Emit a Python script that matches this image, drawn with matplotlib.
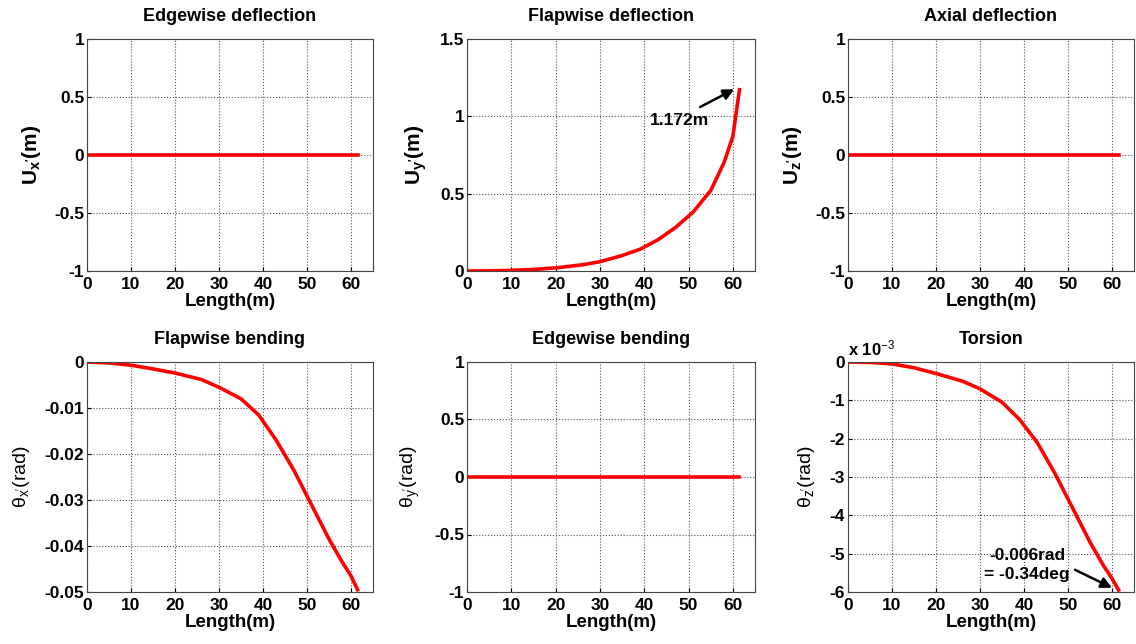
import matplotlib
matplotlib.use("Agg")
import matplotlib.pyplot as plt
import matplotlib.ticker as mticker

plt.rcParams["font.family"] = ["Liberation Sans", "DejaVu Sans"]
plt.rcParams["font.weight"] = "bold"
plt.rcParams["axes.unicode_minus"] = False
plt.rcParams["mathtext.fontset"] = "custom"
plt.rcParams["mathtext.rm"] = "Liberation Sans:weight=normal"
plt.rcParams["mathtext.bf"] = "Liberation Sans:bold"
plt.rcParams["mathtext.it"] = "Liberation Sans:italic"

# blade span positions (m)
length = [0, 5, 10, 15, 20, 26, 30, 35, 39, 43, 47, 51, 55, 58, 60, 61.5]
zeros = [0.0] * len(length)

# flapwise deflection Uy' (m)
flap_defl = [0, 0.001, 0.004, 0.01, 0.02, 0.04, 0.06, 0.1, 0.14, 0.2, 0.28,
             0.38, 0.52, 0.7, 0.87, 1.172]
# flapwise bending theta_x' (rad)
flap_bend = [0, -0.0002, -0.0007, -0.0015, -0.0024, -0.0038, -0.0055, -0.008,
             -0.0115, -0.017, -0.0235, -0.031, -0.0385, -0.0435, -0.0465, -0.0495]
# torsion theta_z' (x 1e-3 rad)
torsion = [0, -0.01, -0.05, -0.15, -0.3, -0.5, -0.7, -1.05, -1.5, -2.1, -2.9,
           -3.8, -4.7, -5.3, -5.65, -5.95]

fig = plt.figure(figsize=(11.36, 6.44), dpi=100)
W, H = 1136, 644
cols = [(87, 373), (467, 755), (848, 1134)]
rows = [(39, 271), (362, 592)]


def make_ax(r, c, title):
    x0, x1 = cols[c]
    y0, y1 = rows[r]
    ax = fig.add_axes([x0 / W, 1 - y1 / H, (x1 - x0) / W, (y1 - y0) / H])
    ax.set_xlim(0, 65)
    ax.set_xticks([0, 10, 20, 30, 40, 50, 60])
    ax.grid(True, linestyle=":", color="#555555", linewidth=0.8)
    ax.tick_params(direction="in", labelsize=12.5, length=3, pad=2)
    ax.tick_params(axis="x", pad=4)
    ax.yaxis.set_major_formatter(mticker.FormatStrFormatter("%g"))
    for s in ax.spines.values():
        s.set_color("#444444")
    ax.set_xlabel("Length(m)", fontsize=13.5, fontweight="bold", labelpad=1)
    ax.set_title(title, fontsize=13, fontweight="bold", pad=13)
    return ax


red = dict(color="red", linewidth=2.6)

ax = make_ax(0, 0, "Edgewise deflection")
ax.plot(length, zeros, **red)
ax.set_ylim(-1, 1)
ax.set_yticks([-1, -0.5, 0, 0.5, 1])
ax.set_ylabel(r"$\mathbf{U_{x'}(m)}$", fontsize=15, labelpad=8)

ax = make_ax(0, 1, "Flapwise deflection")
ax.plot(length, flap_defl, **red)
ax.set_ylim(0, 1.5)
ax.set_yticks([0, 0.5, 1, 1.5])
ax.set_ylabel(r"$\mathbf{U_{y'}(m)}$", fontsize=15, labelpad=8)
ax.annotate("", xy=(60.3, 1.175), xytext=(52.6, 1.06),
            arrowprops=dict(arrowstyle="-|>", color="black", lw=1.8,
                            mutation_scale=16, shrinkA=0, shrinkB=0))
ax.text(48, 0.97, "1.172m", fontsize=12.5, fontweight="bold",
        ha="center", va="center")

ax = make_ax(0, 2, "Axial deflection")
ax.plot(length, zeros, **red)
ax.set_ylim(-1, 1)
ax.set_yticks([-1, -0.5, 0, 0.5, 1])
ax.set_ylabel(r"$\mathbf{U_{z'}(m)}$", fontsize=15, labelpad=8)

ax = make_ax(1, 0, "Flapwise bending")
ax.plot(length, flap_bend, **red)
ax.set_ylim(-0.05, 0)
ax.set_yticks([-0.05, -0.04, -0.03, -0.02, -0.01, 0])
ax.set_ylabel(r"$\mathrm{\theta_{x'}(rad)}$", fontsize=14, labelpad=9)

ax = make_ax(1, 1, "Edgewise bending")
ax.plot(length, zeros, **red)
ax.set_ylim(-1, 1)
ax.set_yticks([-1, -0.5, 0, 0.5, 1])
ax.set_ylabel(r"$\mathrm{\theta_{y'}(rad)}$", fontsize=14, labelpad=9)

ax = make_ax(1, 2, "Torsion")
ax.plot(length, torsion, **red)
ax.set_ylim(-6, 0)
ax.set_yticks([-6, -5, -4, -3, -2, -1, 0])
ax.set_ylabel(r"$\mathrm{\theta_{z'}(rad)}$", fontsize=14, labelpad=9)
ax.text(0, 1.015, r"x 10$^{-3}$", transform=ax.transAxes, fontsize=12,
        fontweight="bold", ha="left", va="bottom")
ax.annotate("", xy=(60, -5.89), xytext=(51.6, -5.42),
            arrowprops=dict(arrowstyle="-|>", color="black", lw=1.8,
                            mutation_scale=16, shrinkA=0, shrinkB=0))
ax.text(40.7, -5.3, "-0.006rad\n= -0.34deg", fontsize=12.5,
        fontweight="bold", ha="center", va="center", linespacing=1.35)

fig.savefig("out.png", dpi=100)
